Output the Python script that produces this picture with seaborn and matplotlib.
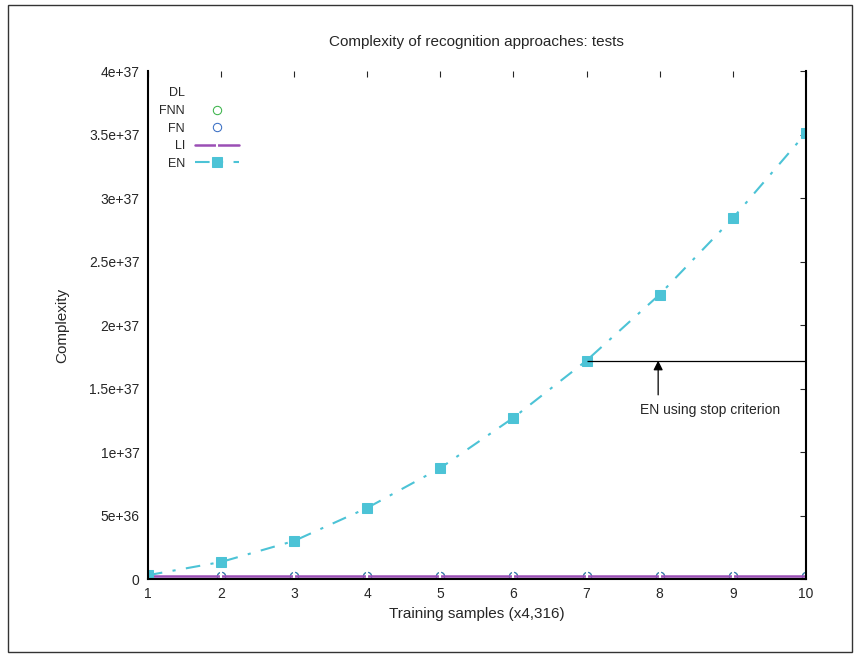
import numpy as np
import pandas as pd
import seaborn as sns
import matplotlib.pyplot as plt
from matplotlib.patches import Rectangle

# values
samples = [1, 2, 3, 4, 5, 6, 7, 8, 9, 10]
en = [0.03e37, 0.134e37, 0.30e37, 0.56e37, 0.874e37, 1.27e37, 1.72e37, 2.24e37, 2.84e37, 3.51e37]
dl = [2e35] * 10
fnn = [2e35] * 10
fn = [2e35] * 10
li = [2e35] * 10
y_ticks = [0, 5e36, 1e37, 1.5e37, 2e37, 2.5e37, 3e37, 3.5e37, 4e37]
y_labels = ['0', '5e+36', '1e+37', '1.5e+37', '2e+37', '2.5e+37', '3e+37', '3.5e+37', '4e+37']
stop_idx = 6

df = pd.DataFrame({'x': samples, 'DL': dl, 'FNN': fnn, 'FN': fn, 'LI': li, 'EN': en})

sns.set_style('white')
plt.rcParams['font.family'] = ['Liberation Sans', 'DejaVu Sans']

fig = plt.figure(figsize=(8.6, 6.6), dpi=100)
ax = fig.add_axes([0.172, 0.1227, 0.765, 0.7697])

fig.patches.append(Rectangle((0.009, 0.012), 0.982, 0.98, transform=fig.transFigure,
                             fill=False, edgecolor='#333333', linewidth=1))

sns.lineplot(data=df, x='x', y='DL', ax=ax, color='white', label='DL', linewidth=0)
sns.lineplot(data=df, x='x', y='FNN', ax=ax, color='#3cb44b', marker='o', markerfacecolor='none',
             markeredgecolor='#3cb44b', linewidth=0, label='FNN')
sns.lineplot(data=df, x='x', y='FN', ax=ax, color='#3a6fc4', marker='o', markerfacecolor='none',
             markeredgecolor='#3a6fc4', linewidth=0, label='FN')
sns.lineplot(data=df, x='x', y='LI', ax=ax, color='#9b4fb5', marker='|', markersize=9,
             markeredgewidth=1.5, linewidth=1.8, label='LI')
sns.lineplot(data=df, x='x', y='EN', ax=ax, color='#4cc3d6', marker='s', markersize=7,
             markeredgecolor='#4cc3d6', linewidth=1.5, dashes=False, label='EN')
ax.lines[-1].set_linestyle((0, (7, 5, 1.5, 5)))

# stop criterion marker
ax.hlines(en[stop_idx], samples[stop_idx], samples[-1], color='black', linewidth=0.9)
ax.annotate('', xy=(7.98, en[stop_idx]), xytext=(7.98, 1.45e37),
            arrowprops=dict(arrowstyle='-|>', color='black', lw=0.9, shrinkA=0, shrinkB=0,
                            mutation_scale=14))
ax.text(8.69, 1.33e37, 'EN using stop criterion', ha='center', va='center', fontsize=10)

ax.set_xlim(1, 10)
ax.set_ylim(0, 4e37)
ax.set_xticks(samples)
ax.set_yticks(y_ticks)
ax.set_yticklabels(y_labels)
ax.tick_params(direction='in', length=4, labelsize=10, top=True, right=True, pad=6)
for side in ['left', 'right', 'bottom']:
    ax.spines[side].set_color('black')
    ax.spines[side].set_linewidth(1.5)
ax.spines['top'].set_visible(False)

ax.set_title('Complexity of recognition approaches: tests', fontsize=11, pad=18)
ax.set_xlabel('Training samples (x4,316)', fontsize=11)
ax.set_ylabel('Complexity', fontsize=11, labelpad=14)

leg = ax.legend(loc='upper left', frameon=False, markerfirst=False, fontsize=9,
                handlelength=3.5, labelspacing=0.45, bbox_to_anchor=(0.0, 0.99))

fig.savefig('out.png', dpi=100)
